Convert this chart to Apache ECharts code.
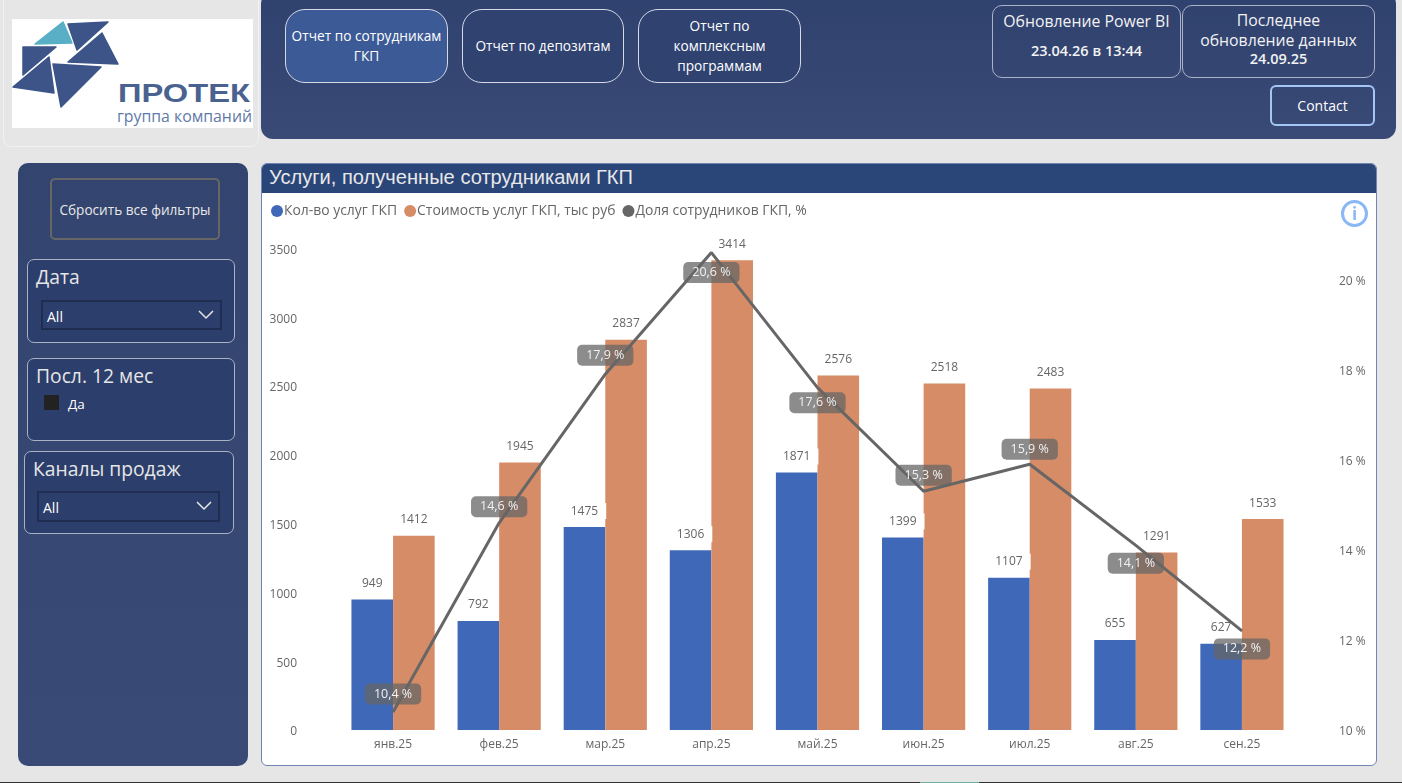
<!DOCTYPE html>
<html>
<head>
<meta charset="utf-8">
<title>Услуги, полученные сотрудниками ГКП</title>
<script src="https://cdn.jsdelivr.net/npm/echarts@6/dist/echarts.min.js"></script>
<style>
html, body { margin: 0; padding: 0; width: 1402px; height: 783px; overflow: hidden; background: #e6e6e6; font-family: "Open Sans", sans-serif; }
.box { position: absolute; box-sizing: border-box; }
.center { display: flex; align-items: center; justify-content: center; text-align: center; }
.topbar { left: 261px; top: -8px; width: 1135px; height: 147px; border-radius: 12px; background: linear-gradient(#2f416e, #3a4a76); }
.side { left: 18px; top: 163px; width: 230px; height: 603px; border-radius: 10px; background: linear-gradient(#33446f, #3a4a76); }
.logocard { left: 3px; top: -8px; width: 256px; height: 155px; border: 1px solid #f2f2f2; border-radius: 8px; }
.nav { top: 9px; height: 74px; border: 1px solid #d5dae6; border-radius: 20px; background: #2f4270; color: #fff; font-size: 13.7px; line-height: 20px; }
.info { top: 5px; height: 73px; border: 1px solid #aab2c6; border-radius: 10px; color: #f2f2f2; text-align: center; }
.contact { left: 1270px; top: 85px; width: 105px; height: 41px; border: 2px solid #a3c6f5; border-radius: 6px; color: #fff; font-size: 14px; }
.reset { left: 50px; top: 178px; width: 170px; height: 62px; border: 2px solid #666; border-radius: 5px; color: #e8e8e8; font-size: 13.6px; }
.slicer { border: 1px solid #aab2c6; border-radius: 7px; background: #2c3e6b; }
.slicer .name { position: absolute; left: 8px; top: 5px; color: #e6e6e6; font-size: 19.3px; line-height: 24px; white-space: nowrap; }
.drop { border: 2px solid #1f2d52; background: #2c3e6b; color: #fff; font-size: 14px; }
.drop span { position: absolute; left: 4px; top: 5px; line-height: 20px; }
.drop svg { position: absolute; right: 3px; top: 6px; }
.panel { left: 261px; top: 163px; width: 1116px; height: 603px; border: 1px solid #6f86b2; border-radius: 6px; background: #fff; overflow: hidden; }
.panel .head { position: absolute; left: 0; top: 0; right: 0; height: 29px; background: #2a4578; color: #e8e8e8; font-family: "Liberation Sans", sans-serif; font-size: 20.1px; line-height: 27px; padding-left: 7px; }
#chart { left: 262px; top: 193px; width: 1114px; height: 572px; }
#infoIcon { left: 1341px; top: 200px; width: 27px; height: 27px; border: 3px solid #8ab8f5; border-radius: 50%; color: #8ab8f5; font-size: 17px; font-weight: 700; }
.strip { left: 0; top: 782px; width: 1402px; height: 1px; background: #333; }
.stripTab { left: 920px; top: 782px; width: 59px; height: 1px; background: #6fae9f; }
</style>
</head>
<body>
<div class="box logocard"></div>
<div class="box" style="left:12px;top:19px;width:241px;height:109px;background:#fff;">
  <svg width="241" height="109">
    <g fill="#3c5488" stroke="#3c5488" stroke-width="1.5" stroke-linejoin="round">
      <polygon points="23,25 51,3 60,24" fill="#58afc6" stroke="#58afc6"/>
      <polygon points="56,5 96,3 65,31"/>
      <polygon points="90,14 106,45 56,43"/>
      <polygon points="11,28 44,28 11,56"/>
      <polygon points="37,38 42,74 1,68"/>
      <polygon points="41,45 89,48 49,88"/>
    </g>
    <text x="106" y="83" font-family="'Liberation Sans',sans-serif" font-size="25" font-weight="700" textLength="132" lengthAdjust="spacingAndGlyphs" fill="#4a6290">ПРОТЕК</text>
    <text x="105" y="103" font-family="'Open Sans',sans-serif" font-size="16" textLength="135" lengthAdjust="spacingAndGlyphs" fill="#5f7aa8">группа компаний</text>
  </svg>
</div>

<div class="box topbar"></div>
<div class="box nav center" style="left:285px;width:163px;background:#3c5a96;">Отчет по сотрудникам<br>ГКП</div>
<div class="box nav center" style="left:462px;width:162px;">Отчет по депозитам</div>
<div class="box nav center" style="left:638px;width:163px;">Отчет по<br>комплексным<br>программам</div>
<div class="box info" style="left:992px;width:189px;">
  <div style="margin-top:5px;font-size:15.8px;line-height:20px;">Обновление Power BI</div>
  <div style="margin-top:10px;font-size:14.5px;line-height:20px;font-weight:600;">23.04.26 в 13:44</div>
</div>
<div class="box info" style="left:1182px;width:193px;">
  <div style="margin-top:4px;font-size:15.8px;line-height:20px;">Последнее<br>обновление данных</div>
  <div style="font-size:14.5px;line-height:18px;font-weight:600;">24.09.25</div>
</div>
<div class="box contact center">Contact</div>

<div class="box side"></div>
<div class="box reset center">Сбросить все фильтры</div>

<div class="box slicer" style="left:27px;top:259px;width:208px;height:84px;"><div class="name">Дата</div></div>
<div class="box drop" style="left:41px;top:300px;width:181px;height:30px;"><span>All</span>
  <svg width="20" height="14"><polyline points="2,3 9,10 16,3" fill="none" stroke="#e6e6e6" stroke-width="1.5"/></svg></div>

<div class="box slicer" style="left:27px;top:358px;width:208px;height:83px;"><div class="name">Посл. 12 мес</div></div>
<div class="box" style="left:44px;top:395px;width:15px;height:15px;background:#222;"></div>
<div class="box" style="left:68px;top:395px;color:#fff;font-size:13.5px;line-height:18px;">Да</div>

<div class="box slicer" style="left:24px;top:451px;width:210px;height:83px;"><div class="name">Каналы продаж</div></div>
<div class="box drop" style="left:37px;top:491px;width:183px;height:31px;"><span>All</span>
  <svg width="20" height="14"><polyline points="2,3 9,10 16,3" fill="none" stroke="#e6e6e6" stroke-width="1.5"/></svg></div>

<div class="box panel"><div class="head">Услуги, полученные сотрудниками ГКП</div></div>
<div class="box" id="chart"></div>
<div class="box center" id="infoIcon">i</div>
<div class="box strip"></div>
<div class="box stripTab"></div>

<script>
const months = ['янв.25', 'фев.25', 'мар.25', 'апр.25', 'май.25', 'июн.25', 'июл.25', 'авг.25', 'сен.25'];
const serviceCount = [949, 792, 1475, 1306, 1871, 1399, 1107, 655, 627];
const serviceCost = [1412, 1945, 2837, 3414, 2576, 2518, 2483, 1291, 1533];
const staffShare = [10.4, 14.6, 17.9, 20.6, 17.6, 15.3, 15.9, 14.1, 12.2];
// these months have the percent label under the line
const labelBelow = ['апр.25', 'май.25', 'авг.25', 'сен.25'];

const textGrey = '#666666';
// small vertical nudge of each percent label
const labelNudge = [-1, 1, -2, 3, -2, 1, 2, 1, 1];

function barLabel() {
    return {
        show: true,
        position: 'top',
        distance: 8,
        color: textGrey,
        fontSize: 12,
        backgroundColor: '#ffffff',
        padding: [2, 8]
    };
}

const shareData = staffShare.map(function (v, i) {
    const below = labelBelow.indexOf(months[i]) > -1;
    return {
        value: v,
        label: {position: below ? 'bottom' : 'top', distance: 6, offset: [0, labelNudge[i]]}
    };
});

const myChart = echarts.init(document.getElementById('chart'));
myChart.setOption({
    animation: false,
    textStyle: {fontFamily: '"Open Sans", sans-serif'},
    legend: {
        left: 4,
        top: 6,
        icon: 'circle',
        itemWidth: 12,
        itemHeight: 12,
        itemGap: 7,
        textStyle: {color: textGrey, fontSize: 13.9, padding: [0, 0, 0, -4]}
    },
    grid: {left: 78, right: 81, top: 55.5, bottom: 35},
    xAxis: {
        type: 'category',
        data: months,
        axisLine: {show: false},
        axisTick: {show: false},
        axisLabel: {color: textGrey, fontSize: 12, margin: 9}
    },
    yAxis: [{
        type: 'value',
        min: 0,
        max: 3500,
        interval: 500,
        axisLine: {show: false},
        axisTick: {show: false},
        splitLine: {show: false},
        axisLabel: {
            color: textGrey,
            fontSize: 12,
            margin: 43,
            // pushes the text down a little from the tick
            verticalAlign: 'top',
            lineHeight: 4,
            formatter: function (v) {
                return String(v);
            }
        }
    }, {
        type: 'value',
        min: 10,
        max: 20.69,
        interval: 2,
        axisLine: {show: false},
        axisTick: {show: false},
        splitLine: {show: false},
        axisLabel: {
            color: textGrey,
            fontSize: 12,
            margin: 44,
            verticalAlign: 'top',
            lineHeight: 4,
            showMaxLabel: false,
            formatter: function (v) {
                return v + ' %';
            }
        }
    }],
    series: [{
        name: 'Кол-во услуг ГКП',
        type: 'bar',
        data: serviceCount,
        barWidth: 41.6,
        barGap: 0,
        itemStyle: {color: '#3f68b8'},
        label: barLabel()
    }, {
        name: 'Стоимость услуг ГКП, тыс руб',
        type: 'bar',
        data: serviceCost,
        barWidth: 41.6,
        barGap: 0,
        itemStyle: {color: '#d68c66'},
        label: barLabel()
    }, {
        name: 'Доля сотрудников ГКП, %',
        type: 'line',
        yAxisIndex: 1,
        data: shareData,
        // a tiny symbol: with symbol none the line drops its labels
        symbol: 'circle',
        symbolSize: 1,
        showAllSymbol: true,
        z: 5,
        itemStyle: {color: '#666666'},
        lineStyle: {color: '#666666', width: 3},
        label: {
            show: true,
            color: '#f2f2f2',
            fontSize: 12.5,
            backgroundColor: 'rgba(102,102,102,0.75)',
            borderRadius: 5,
            padding: [4, 9],
            formatter: function (p) {
                return String(p.value).replace('.', ',') + ' %';
            }
        }
    }]
});
</script>
</body>
</html>
